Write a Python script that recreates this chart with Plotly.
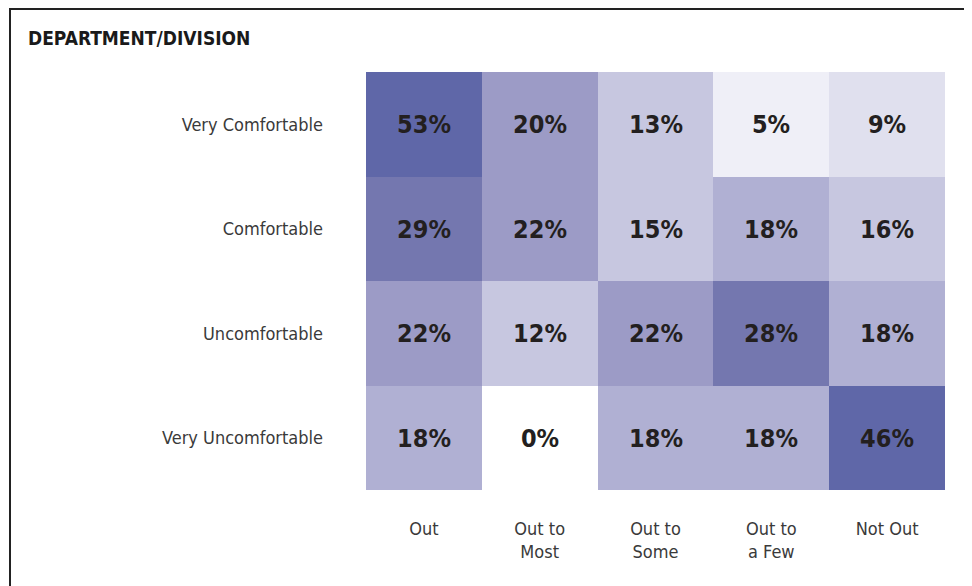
import plotly.graph_objects as go

# data
columns = ['Out', 'Out to<br>Most', 'Out to<br>Some', 'Out to<br>a Few', 'Not Out']
rows = ['Very Comfortable', 'Comfortable', 'Uncomfortable', 'Very Uncomfortable']
pct_very_comfortable = [53, 20, 13, 5, 9]
pct_comfortable = [29, 22, 15, 18, 16]
pct_uncomfortable = [22, 12, 22, 28, 18]
pct_very_uncomfortable = [18, 0, 18, 18, 46]

z = [pct_very_comfortable, pct_comfortable, pct_uncomfortable, pct_very_uncomfortable]
text = [[f'{v}%' for v in r] for r in z]

# stepped colour scale (value range 0-60)
zmax = 60
bins = [(0, 3, '#ffffff'), (3, 7, '#efeff7'), (7, 11, '#e0e0ee'), (11, 17, '#c7c7e0'),
        (17, 19, '#b0b0d3'), (19, 25, '#9c9bc6'), (25, 40, '#7477af'), (40, 60, '#5f67a8')]
colorscale = []
for lo, hi, c in bins:
    colorscale.append([lo / zmax, c])
    colorscale.append([hi / zmax, c])

label_font = "'Liberation Sans Narrow', 'DejaVu Sans Condensed', 'Roboto Condensed', sans-serif"

fig = go.Figure(go.Heatmap(
    z=z, x=columns, y=rows,
    zmin=0, zmax=zmax,
    colorscale=colorscale,
    showscale=False,
    text=text,
    texttemplate='%{text}',
    textfont=dict(family=label_font, size=25, color='#231f20', weight='bold'),
    xgap=0, ygap=0,
    hoverinfo='skip',
))

fig.update_yaxes(autorange='reversed', showgrid=False, zeroline=False, ticks='',
                 tickfont=dict(family=label_font, size=18, color='#3a3a3a'),
                 ticklabelstandoff=42)
fig.update_xaxes(showgrid=False, zeroline=False, ticks='',
                 tickfont=dict(family=label_font, size=18, color='#3a3a3a'),
                 ticklabelstandoff=26)

# page body has an 8px margin, so the figure is sized and placed to fit inside it
OFF = 8
W, H = 972 - OFF, 586 - OFF
L, R, T, B = 366 - OFF, 27, 72 - OFF, 96
pw, ph = W - L - R, H - T - B
def px(x):
    return (x - OFF - L) / pw
def py(y):
    return (H - B - (y - OFF)) / ph
fig.add_shape(type='path', xref='paper', yref='paper',
              path=f'M {px(10)} {py(600)} L {px(10)} {py(9)} L {px(967)} {py(9)} L {px(967)} {py(600)}',
              line=dict(color='#222222', width=2))

fig.update_layout(
    width=W, height=H,
    margin=dict(l=L, r=R, t=T, b=B),
    paper_bgcolor='white', plot_bgcolor='white',
    title=dict(text='<b>DEPARTMENT/DIVISION</b>', xref='container', yref='container',
               x=(28 - OFF) / W, xanchor='left', y=1 - (38 - OFF) / H, yanchor='middle',
               font=dict(family=label_font, size=19, color='#1a1a1a')),
)

fig.write_html('out.html')
